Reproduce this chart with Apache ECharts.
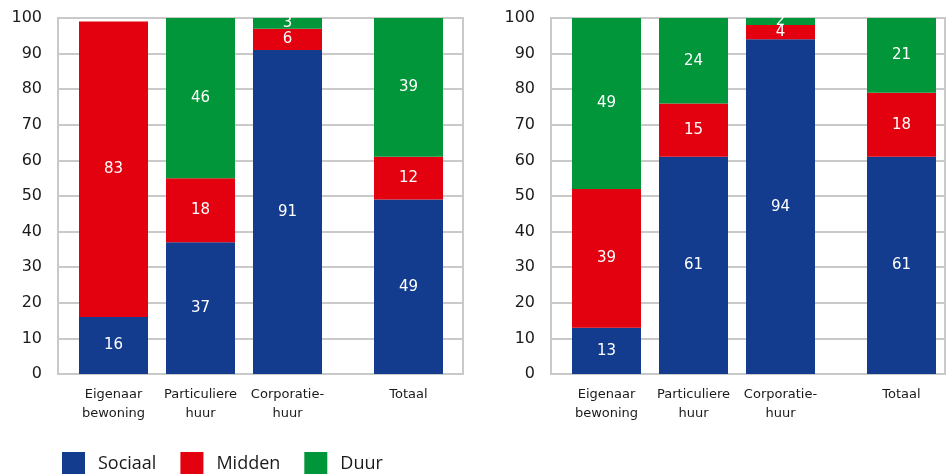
<!DOCTYPE html>
<html>
<head>
<meta charset="utf-8">
<script src="https://cdn.jsdelivr.net/npm/echarts@6/dist/echarts.min.js"></script>
<style>
  html, body { margin: 0; padding: 0; background: #fff; }
  #chart { width: 946px; height: 474px; }
</style>
</head>
<body>
<div id="chart"></div>
<script>
// Categories (the last one, Totaal, is set apart in its own group)
const categories = ['Eigenaar\nbewoning', 'Particuliere\nhuur', 'Corporatie-\nhuur', 'Totaal'];
const seriesNames = ['Sociaal', 'Midden', 'Duur'];
const yTicks = [0, 10, 20, 30, 40, 50, 60, 70, 80, 90, 100];

// Left panel (percentages)
const sociaalLeft = [16, 37, 91, 49];
const middenLeft  = [83, 18, 6, 12];
const duurLeft    = [null, 46, 3, 39];

// Right panel (percentages)
const sociaalRight = [13, 61, 94, 61];
const middenRight  = [39, 15, 4, 18];
const duurRight    = [49, 24, 2, 21];

const colors = { Sociaal: '#133c8e', Midden: '#e3000f', Duur: '#009639' };
const gridColor = '#c9c9c9';
const axisFont = 'DejaVu Sans';

const TOP = 18, BOTTOM = 100;
// panel layout: background plot area, group of three bars, separate Totaal bar
const panels = [
  { bg: [58, 405], group: [70, 261], total: [365, 87], data: [sociaalLeft, middenLeft, duurLeft] },
  { bg: [551, 394], group: [563, 261], total: [858, 87], data: [sociaalRight, middenRight, duurRight] }
];

const grids = [], xAxes = [], yAxes = [], series = [];

panels.forEach((p, pi) => {
  const base = grids.length;
  // background plot area with gridlines and y labels
  grids.push({ left: p.bg[0], width: p.bg[1], top: TOP, bottom: BOTTOM, show: true,
    borderColor: gridColor, borderWidth: 2, backgroundColor: 'transparent' });
  grids.push({ left: p.group[0], width: p.group[1], top: TOP, bottom: BOTTOM });
  grids.push({ left: p.total[0], width: p.total[1], top: TOP, bottom: BOTTOM });

  xAxes.push({ gridIndex: base, type: 'category', data: [''], show: false });
  yAxes.push({
    gridIndex: base, type: 'value', min: yTicks[0], max: yTicks[yTicks.length - 1], interval: 10,
    axisLine: { show: false }, axisTick: { show: false },
    axisLabel: { color: '#1a1a1a', fontSize: 16, fontFamily: axisFont, margin: 16 },
    splitLine: { show: true, lineStyle: { color: gridColor, width: 2 } }
  });

  const catAxis = (gi, data) => ({
    gridIndex: gi, type: 'category', data: data,
    axisLine: { show: false }, axisTick: { show: false },
    axisLabel: { color: '#1a1a1a', fontSize: 13, fontFamily: axisFont, lineHeight: 19, margin: 11, interval: 0 }
  });
  xAxes.push(catAxis(base + 1, categories.slice(0, 3)));
  xAxes.push(catAxis(base + 2, categories.slice(3)));
  [base + 1, base + 2].forEach(gi => yAxes.push({ gridIndex: gi, type: 'value', min: 0, max: 100, show: false }));

  [[base + 1, 0, 3], [base + 2, 3, 4]].forEach(([gi, from, to]) => {
    seriesNames.forEach((name, si) => {
      series.push({
        name: name, type: 'bar', stack: 'p' + pi + 'g' + gi,
        xAxisIndex: gi, yAxisIndex: gi, barWidth: 69, clip: true,
        itemStyle: { color: colors[name] },
        label: { show: true, position: 'inside', color: '#fff', fontSize: 15, fontFamily: axisFont },
        labelLayout: { moveOverlap: 'shiftY' },
        data: p.data[si].slice(from, to)
      });
    });
  });
});

const chart = echarts.init(document.getElementById('chart'), null, { renderer: 'canvas' });
chart.setOption({
  animation: false,
  grid: grids, xAxis: xAxes, yAxis: yAxes, series: series,
  legend: {
    data: seriesNames, left: 62, top: 452, padding: 0, icon: 'rect', itemWidth: 23, itemHeight: 23,
    itemGap: 24, selectedMode: false,
    textStyle: { fontFamily: 'Open Sans', fontSize: 18, color: '#1a1a1a', padding: [0, 0, 0, 8] }
  }
});
</script>
</body>
</html>
